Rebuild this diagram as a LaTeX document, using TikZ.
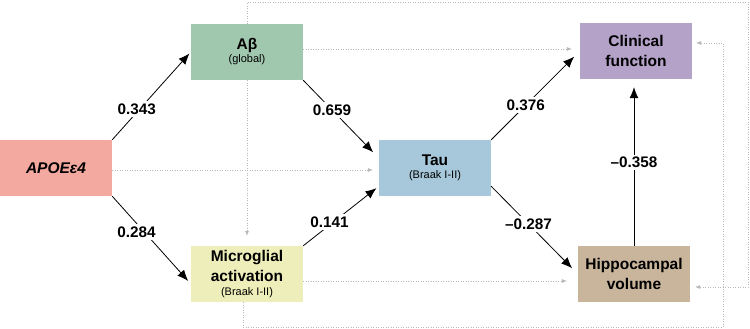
\documentclass[tikz,border=0pt]{standalone}
\usepackage{fontspec}
\setmainfont{Liberation Sans}
\usetikzlibrary{arrows.meta,positioning}
\definecolor{apoecol}{HTML}{F4A9A0}
\definecolor{abetacol}{HTML}{A0C8AE}
\definecolor{microcol}{HTML}{EEEEBA}
\definecolor{taucol}{HTML}{A6C8DA}
\definecolor{clincol}{HTML}{B4A2C8}
\definecolor{hipcol}{HTML}{C9B59C}
\newcommand\subtxt[1]{{\fontsize{11}{13}\selectfont\mdseries #1}}

\begin{document}
\begin{tikzpicture}[>=Latex, x=1pt, y=-1pt]
  \tikzset{
    varbox/.style={
      rectangle, minimum width=112pt, minimum height=56pt, inner sep=0pt,
      align=center, font=\fontsize{15.5}{19.5}\selectfont\bfseries
    },
    effect/.style={
      -{Latex[length=11pt,width=9pt]}, line width=0.8pt, shorten >=8pt
    },
    direct/.style={
      -{Latex[length=5pt,width=4pt]}, draw=gray!55, dotted, line width=0.5pt,
      shorten >=6pt
    },
    coef/.style={
      fill=white, inner sep=2.5pt, font=\fontsize{15.3}{18}\selectfont\bfseries
    },
  }
\useasboundingbox (0,0) rectangle (750,329);
\coordinate (topR) at (748,2);
\coordinate (botR) at (723,327);

\node[varbox, fill=apoecol] (apoe) at (56,168) {\itshape APOEε4};
\node[varbox, fill=abetacol] (abeta) at (247,52) {Aβ\\[-6.5pt]\subtxt{(global)}};
\node[varbox, fill=microcol] (micro) at (247,274)
  {Microglial\\activation\\[-5.5pt]\subtxt{(Braak I-II)}};
\node[varbox, fill=taucol] (tau) at (435,168) {Tau\\[-6.5pt]\subtxt{(Braak I-II)}};
\node[varbox, fill=clincol] (clin) at (636,51) {Clinical\\function};
\node[varbox, fill=hipcol] (hip) at (634,274) {Hippocampal\\volume};

% direct paths
\draw[direct] ([yshift=-2pt]apoe.east) -- ([yshift=-2pt]tau.west);
\draw[direct, shorten >=8pt] ([yshift=3pt]abeta.east) -- ([yshift=2pt]clin.west);
\draw[direct, shorten >=10pt] (abeta.south) -- (micro.north);
\draw[direct, shorten >=11pt] ([yshift=-7pt]micro.east) -- ([yshift=-7pt]hip.west);
\draw[direct, shorten >=4pt] ([xshift=-4pt]micro.south) |- (botR)
  |- ([yshift=8pt]clin.east);
\draw[direct, shorten >=5pt] (abeta.north) |- (topR)
  |- ([yshift=-13pt]hip.east);

% indirect paths
\draw[effect, shorten >=2pt] (apoe.north east) -- (abeta.west)
node[coef, pos=0.35, xshift=-3pt] {0.343};
\draw[effect, shorten >=4pt] (apoe.south east) -- (micro.190)
node[coef, pos=0.41, xshift=-8pt] {0.284};
\draw[effect] (abeta.south east) -- (tau.170)
node[coef, pos=0.38] {0.659};
\draw[effect, shorten >=3pt] (micro.north east) -- (tau.198)
node[coef, pos=0.4, xshift=-4pt] {0.141};
\draw[effect] (tau.north east) -- (clin.west)
node[coef, pos=0.39] {0.376};
\draw[effect] (tau.-18) -- (hip.west)
node[coef, pos=0.43] {–0.287};
\draw[effect] (hip.north) -- (hip.north |- clin.south)
node[coef, pos=0.5] {–0.358};

\end{tikzpicture}
\end{document}
